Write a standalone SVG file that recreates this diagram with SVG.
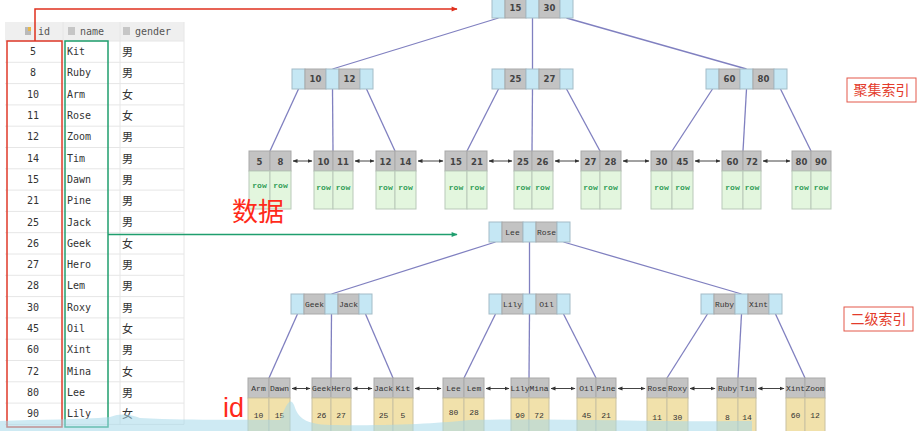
<svg xmlns="http://www.w3.org/2000/svg" width="920" height="431" viewBox="0 0 920 431">
<style>
.b{fill:#c5e7f4;stroke:#a3bcc7;stroke-width:1}
.g{fill:#c3c3c3;stroke:#a9a9a9;stroke-width:1}
.rw{fill:#e3f6de;stroke:#b9c9b9;stroke-width:1}
.dt{fill:#f1e1ab;stroke:#c9c1a1;stroke-width:1}
.edge{stroke:#8080c0;stroke-width:1.3;fill:none}
.ptr{stroke:#444;stroke-width:1;fill:none;marker-start:url(#ah);marker-end:url(#ah)}
.k1{font-family:"DejaVu Sans",sans-serif;font-size:8.5px;font-weight:bold;fill:#444;text-anchor:middle}
.rt{font-family:"Liberation Mono",monospace;font-size:8px;font-weight:bold;fill:#2f9c57;text-anchor:middle}
.k2{font-family:"Liberation Mono",monospace;font-size:8px;fill:#333;text-anchor:middle}
.tb{font-family:"DejaVu Sans Mono",monospace;font-size:10px;fill:#333}
.hd{font-family:"DejaVu Sans Mono",monospace;font-size:10px;fill:#555}
.cn{font-family:"Noto Sans CJK SC",sans-serif;font-size:11px;fill:#333}
.lab{font-family:"Noto Sans CJK SC",sans-serif;font-size:14px;fill:#e33b2b;text-anchor:middle}
.lbox{fill:#fff;stroke:#e3584a;stroke-width:1}
</style>
<defs>
<marker id="ah" viewBox="0 0 10 10" refX="9" refY="5" markerWidth="5" markerHeight="5" orient="auto-start-reverse" markerUnits="userSpaceOnUse">
<path d="M0,1 L10,5 L0,9 z" fill="#333"/>
</marker>
<marker id="ahr" viewBox="0 0 10 10" refX="9" refY="5" markerWidth="7" markerHeight="6" orient="auto" markerUnits="userSpaceOnUse">
<path d="M0,1 L10,5 L0,9 z" fill="#e0301e"/>
</marker>
<marker id="ahg" viewBox="0 0 10 10" refX="9" refY="5" markerWidth="7" markerHeight="6" orient="auto" markerUnits="userSpaceOnUse">
<path d="M0,1 L10,5 L0,9 z" fill="#1f9e6e"/>
</marker>
<g id="inode">
<rect class="b" x="0" y="0" width="13" height="20"/>
<rect class="g" x="13" y="0" width="21" height="20"/>
<rect class="b" x="34" y="0" width="13" height="20"/>
<rect class="g" x="47" y="0" width="21" height="20"/>
<rect class="b" x="68" y="0" width="13" height="20"/>
</g>
</defs>
<rect width="920" height="431" fill="#fff"/>

<g id="table">
<rect x="5" y="22" width="179" height="19" fill="#efefef"/>
<rect x="5" y="41" width="179" height="384" fill="#fff"/>
<path d="M5,41H184M5,62.3H184M5,83.6H184M5,104.9H184M5,126.2H184M5,147.5H184M5,168.8H184M5,190.1H184M5,211.4H184M5,232.7H184M5,254H184M5,275.3H184M5,296.6H184M5,317.9H184M5,339.2H184M5,360.5H184M5,381.8H184M5,403.1H184M5,424.4H184M63,22V424.4M120,22V424.4M184,22V424.4" stroke="#e6e6e6" stroke-width="1" fill="none"/>
<rect x="25" y="27" width="6" height="8" fill="#b9b9b9"/><rect x="28" y="27" width="3" height="4" fill="#e8b84a"/>
<rect x="68" y="27" width="7" height="8" fill="#c6c6c6"/>
<rect x="123" y="27" width="7" height="8" fill="#c6c6c6"/>
<text class="hd" x="38" y="34.5">id</text>
<text class="hd" x="80" y="34.5">name</text>
<text class="hd" x="135" y="34.5">gender</text>
<g class="tb" text-anchor="middle">
<text x="33" y="55.1">5</text><text x="33" y="76.4">8</text><text x="33" y="97.7">10</text><text x="33" y="119">11</text><text x="33" y="140.3">12</text><text x="33" y="161.6">14</text><text x="33" y="182.9">15</text><text x="33" y="204.2">21</text><text x="33" y="225.5">25</text><text x="33" y="246.8">26</text><text x="33" y="268.1">27</text><text x="33" y="289.4">28</text><text x="33" y="310.7">30</text><text x="33" y="332">45</text><text x="33" y="353.3">60</text><text x="33" y="374.6">72</text><text x="33" y="395.9">80</text><text x="33" y="417.2">90</text>
</g>
<g class="tb">
<text x="67" y="55.1">Kit</text><text x="67" y="76.4">Ruby</text><text x="67" y="97.7">Arm</text><text x="67" y="119">Rose</text><text x="67" y="140.3">Zoom</text><text x="67" y="161.6">Tim</text><text x="67" y="182.9">Dawn</text><text x="67" y="204.2">Pine</text><text x="67" y="225.5">Jack</text><text x="67" y="246.8">Geek</text><text x="67" y="268.1">Hero</text><text x="67" y="289.4">Lem</text><text x="67" y="310.7">Roxy</text><text x="67" y="332">Oil</text><text x="67" y="353.3">Xint</text><text x="67" y="374.6">Mina</text><text x="67" y="395.9">Lee</text><text x="67" y="417.2">Lily</text>
</g>
<g class="cn">
<text x="122" y="56">男</text><text x="122" y="77.3">男</text><text x="122" y="98.6">女</text><text x="122" y="119.9">女</text><text x="122" y="141.2">男</text><text x="122" y="162.5">男</text><text x="122" y="183.8">男</text><text x="122" y="205.1">男</text><text x="122" y="226.4">男</text><text x="122" y="247.7">女</text><text x="122" y="269">男</text><text x="122" y="290.3">男</text><text x="122" y="311.6">男</text><text x="122" y="332.9">女</text><text x="122" y="354.2">男</text><text x="122" y="375.5">女</text><text x="122" y="396.8">男</text><text x="122" y="418.1">女</text>
</g>
<rect x="7" y="41" width="55" height="386" fill="none" stroke="#e03a2a" stroke-width="1.5"/>
<rect x="65" y="41" width="43" height="386" fill="none" stroke="#1f9e6e" stroke-width="1.5"/>
</g>

<g id="connectors">
<polyline points="35,41 35,9 457,9" fill="none" stroke="#e0301e" stroke-width="1.5" marker-end="url(#ahr)"/>
<line x1="108" y1="234.5" x2="457" y2="234.5" stroke="#1f9e6e" stroke-width="1.5" marker-end="url(#ahg)"/>
<g class="edge">
<line x1="498.5" y1="18" x2="332.5" y2="69"/>
<line x1="532.5" y1="18" x2="532.5" y2="69"/>
<line x1="566.5" y1="18" x2="746.5" y2="69"/>
<line x1="298.5" y1="89" x2="270" y2="151"/>
<line x1="332.5" y1="89" x2="333" y2="151"/>
<line x1="366.5" y1="89" x2="395" y2="151"/>
<line x1="498.5" y1="89" x2="467" y2="151"/>
<line x1="532.5" y1="89" x2="532" y2="151"/>
<line x1="566.5" y1="89" x2="600" y2="151"/>
<line x1="712.5" y1="89" x2="672" y2="151"/>
<line x1="746.5" y1="89" x2="743" y2="151"/>
<line x1="780.5" y1="89" x2="811" y2="151"/>
<line x1="495.5" y1="242" x2="331.5" y2="294"/>
<line x1="529.5" y1="242" x2="529.5" y2="294"/>
<line x1="563.5" y1="242" x2="741.5" y2="294"/>
<line x1="297.5" y1="314" x2="269" y2="378"/>
<line x1="331.5" y1="314" x2="331" y2="378"/>
<line x1="365.5" y1="314" x2="393" y2="378"/>
<line x1="495.5" y1="314" x2="464" y2="378"/>
<line x1="529.5" y1="314" x2="529" y2="378"/>
<line x1="563.5" y1="314" x2="596" y2="378"/>
<line x1="707.5" y1="314" x2="667" y2="378"/>
<line x1="741.5" y1="314" x2="738" y2="378"/>
<line x1="775.5" y1="314" x2="805" y2="378"/>
</g>
<g class="ptr">
<line x1="293" y1="161" x2="312" y2="161"/>
<line x1="355" y1="161" x2="374" y2="161"/>
<line x1="418" y1="161" x2="443" y2="161"/>
<line x1="489" y1="161" x2="512" y2="161"/>
<line x1="555" y1="161" x2="579" y2="161"/>
<line x1="623" y1="161" x2="649" y2="161"/>
<line x1="695" y1="161" x2="720" y2="161"/>
<line x1="763" y1="161" x2="790" y2="161"/>
<line x1="292" y1="388.5" x2="310" y2="388.5"/>
<line x1="353" y1="388.5" x2="372" y2="388.5"/>
<line x1="415" y1="388.5" x2="441" y2="388.5"/>
<line x1="486" y1="388.5" x2="509" y2="388.5"/>
<line x1="551" y1="388.5" x2="575" y2="388.5"/>
<line x1="618" y1="388.5" x2="645" y2="388.5"/>
<line x1="690" y1="388.5" x2="715" y2="388.5"/>
<line x1="758" y1="388.5" x2="784" y2="388.5"/>
</g>
</g>

<g id="c-root" transform="translate(492,-2)"><use href="#inode"/><text class="k1" x="23.5" y="13">15</text><text class="k1" x="57.5" y="13">30</text></g>
<g id="c-n1" transform="translate(292,69)"><use href="#inode"/><text class="k1" x="23.5" y="13">10</text><text class="k1" x="57.5" y="13">12</text></g>
<g id="c-n2" transform="translate(492,69)"><use href="#inode"/><text class="k1" x="23.5" y="13">25</text><text class="k1" x="57.5" y="13">27</text></g>
<g id="c-n3" transform="translate(706,69)"><use href="#inode"/><text class="k1" x="23.5" y="13">60</text><text class="k1" x="57.5" y="13">80</text></g>

<g id="c-leaf1"><rect class="g" x="249" y="151" width="21" height="20"/><rect class="g" x="270" y="151" width="21" height="20"/><rect class="rw" x="249" y="171" width="21" height="38"/><rect class="rw" x="270" y="171" width="21" height="38"/><text class="k1" x="259.5" y="164.5">5</text><text class="k1" x="280.5" y="164.5">8</text><text class="rt" x="259.5" y="188">row</text><text class="rt" x="280.5" y="188">row</text></g>
<g id="c-leaf2"><rect class="g" x="314" y="151" width="19" height="20"/><rect class="g" x="333" y="151" width="20" height="20"/><rect class="rw" x="314" y="171" width="19" height="38"/><rect class="rw" x="333" y="171" width="20" height="38"/><text class="k1" x="323.5" y="164.5">10</text><text class="k1" x="343" y="164.5">11</text><text class="rt" x="323.5" y="190">row</text><text class="rt" x="343" y="190">row</text></g>
<g id="c-leaf3"><rect class="g" x="376" y="151" width="19" height="20"/><rect class="g" x="395" y="151" width="21" height="20"/><rect class="rw" x="376" y="171" width="19" height="38"/><rect class="rw" x="395" y="171" width="21" height="38"/><text class="k1" x="385.5" y="164.5">12</text><text class="k1" x="405.5" y="164.5">14</text><text class="rt" x="385.5" y="190">row</text><text class="rt" x="405.5" y="190">row</text></g>
<g id="c-leaf4"><rect class="g" x="445" y="151" width="22" height="20"/><rect class="g" x="467" y="151" width="20" height="20"/><rect class="rw" x="445" y="171" width="22" height="38"/><rect class="rw" x="467" y="171" width="20" height="38"/><text class="k1" x="456" y="164.5">15</text><text class="k1" x="477" y="164.5">21</text><text class="rt" x="456" y="190">row</text><text class="rt" x="477" y="190">row</text></g>
<g id="c-leaf5"><rect class="g" x="514" y="151" width="18" height="20"/><rect class="g" x="532" y="151" width="21" height="20"/><rect class="rw" x="514" y="171" width="18" height="38"/><rect class="rw" x="532" y="171" width="21" height="38"/><text class="k1" x="523" y="164.5">25</text><text class="k1" x="542.5" y="164.5">26</text><text class="rt" x="523" y="190">row</text><text class="rt" x="542.5" y="190">row</text></g>
<g id="c-leaf6"><rect class="g" x="581" y="151" width="19" height="20"/><rect class="g" x="600" y="151" width="21" height="20"/><rect class="rw" x="581" y="171" width="19" height="38"/><rect class="rw" x="600" y="171" width="21" height="38"/><text class="k1" x="590.5" y="164.5">27</text><text class="k1" x="610.5" y="164.5">28</text><text class="rt" x="590.5" y="190">row</text><text class="rt" x="610.5" y="190">row</text></g>
<g id="c-leaf7"><rect class="g" x="651" y="151" width="21" height="20"/><rect class="g" x="672" y="151" width="21" height="20"/><rect class="rw" x="651" y="171" width="21" height="38"/><rect class="rw" x="672" y="171" width="21" height="38"/><text class="k1" x="661.5" y="164.5">30</text><text class="k1" x="682.5" y="164.5">45</text><text class="rt" x="661.5" y="190">row</text><text class="rt" x="682.5" y="190">row</text></g>
<g id="c-leaf8"><rect class="g" x="722" y="151" width="21" height="20"/><rect class="g" x="743" y="151" width="18" height="20"/><rect class="rw" x="722" y="171" width="21" height="38"/><rect class="rw" x="743" y="171" width="18" height="38"/><text class="k1" x="732.5" y="164.5">60</text><text class="k1" x="752" y="164.5">72</text><text class="rt" x="732.5" y="190">row</text><text class="rt" x="752" y="190">row</text></g>
<g id="c-leaf9"><rect class="g" x="792" y="151" width="19" height="20"/><rect class="g" x="811" y="151" width="20" height="20"/><rect class="rw" x="792" y="171" width="19" height="38"/><rect class="rw" x="811" y="171" width="20" height="38"/><text class="k1" x="801.5" y="164.5">80</text><text class="k1" x="821" y="164.5">90</text><text class="rt" x="801.5" y="190">row</text><text class="rt" x="821" y="190">row</text></g>

<g id="s-root" transform="translate(489,222)"><use href="#inode"/><text class="k2" x="23.5" y="13">Lee</text><text class="k2" x="57.5" y="13">Rose</text></g>
<g id="s-n1" transform="translate(291,294)"><use href="#inode"/><text class="k2" x="23.5" y="13">Geek</text><text class="k2" x="57.5" y="13">Jack</text></g>
<g id="s-n2" transform="translate(489,294)"><use href="#inode"/><text class="k2" x="23.5" y="13">Lily</text><text class="k2" x="57.5" y="13">Oil</text></g>
<g id="s-n3" transform="translate(701,294)"><use href="#inode"/><text class="k2" x="23.5" y="13">Ruby</text><text class="k2" x="57.5" y="13">Xint</text></g>

<g id="s-leaf1"><rect class="g" x="248" y="378" width="21" height="20"/><rect class="g" x="269" y="378" width="21" height="20"/><rect class="dt" x="248" y="398" width="21" height="40"/><rect class="dt" x="269" y="398" width="21" height="40"/><text class="k2" x="258.5" y="391">Arm</text><text class="k2" x="279.5" y="391">Dawn</text><text class="k2" x="258.5" y="418">10</text><text class="k2" x="279.5" y="418">15</text></g>
<g id="s-leaf2"><rect class="g" x="312" y="378" width="19" height="20"/><rect class="g" x="331" y="378" width="20" height="20"/><rect class="dt" x="312" y="398" width="19" height="40"/><rect class="dt" x="331" y="398" width="20" height="40"/><text class="k2" x="321.5" y="391">Geek</text><text class="k2" x="341" y="391">Hero</text><text class="k2" x="321.5" y="418">26</text><text class="k2" x="341" y="418">27</text></g>
<g id="s-leaf3"><rect class="g" x="374" y="378" width="19" height="20"/><rect class="g" x="393" y="378" width="20" height="20"/><rect class="dt" x="374" y="398" width="19" height="40"/><rect class="dt" x="393" y="398" width="20" height="40"/><text class="k2" x="383.5" y="391">Jack</text><text class="k2" x="403" y="391">Kit</text><text class="k2" x="383.5" y="418">25</text><text class="k2" x="403" y="418">5</text></g>
<g id="s-leaf4"><rect class="g" x="443" y="378" width="21" height="20"/><rect class="g" x="464" y="378" width="20" height="20"/><rect class="dt" x="443" y="398" width="21" height="40"/><rect class="dt" x="464" y="398" width="20" height="40"/><text class="k2" x="453.5" y="391">Lee</text><text class="k2" x="474" y="391">Lem</text><text class="k2" x="453.5" y="415">80</text><text class="k2" x="474" y="415">28</text></g>
<g id="s-leaf5"><rect class="g" x="511" y="378" width="18" height="20"/><rect class="g" x="529" y="378" width="20" height="20"/><rect class="dt" x="511" y="398" width="18" height="40"/><rect class="dt" x="529" y="398" width="20" height="40"/><text class="k2" x="520" y="391">Lily</text><text class="k2" x="539" y="391">Mina</text><text class="k2" x="520" y="418">90</text><text class="k2" x="539" y="418">72</text></g>
<g id="s-leaf6"><rect class="g" x="577" y="378" width="19" height="20"/><rect class="g" x="596" y="378" width="20" height="20"/><rect class="dt" x="577" y="398" width="19" height="40"/><rect class="dt" x="596" y="398" width="20" height="40"/><text class="k2" x="586.5" y="391">Oil</text><text class="k2" x="606" y="391">Pine</text><text class="k2" x="586.5" y="418">45</text><text class="k2" x="606" y="418">21</text></g>
<g id="s-leaf7"><rect class="g" x="647" y="378" width="20" height="20"/><rect class="g" x="667" y="378" width="21" height="20"/><rect class="dt" x="647" y="398" width="20" height="40"/><rect class="dt" x="667" y="398" width="21" height="40"/><text class="k2" x="657" y="391">Rose</text><text class="k2" x="677.5" y="391">Roxy</text><text class="k2" x="657" y="420">11</text><text class="k2" x="677.5" y="420">30</text></g>
<g id="s-leaf8"><rect class="g" x="717" y="378" width="21" height="20"/><rect class="g" x="738" y="378" width="18" height="20"/><rect class="dt" x="717" y="398" width="21" height="40"/><rect class="dt" x="738" y="398" width="18" height="40"/><text class="k2" x="727.5" y="391">Ruby</text><text class="k2" x="747" y="391">Tim</text><text class="k2" x="727.5" y="420">8</text><text class="k2" x="747" y="420">14</text></g>
<g id="s-leaf9"><rect class="g" x="786" y="378" width="19" height="20"/><rect class="g" x="805" y="378" width="20" height="20"/><rect class="dt" x="786" y="398" width="19" height="40"/><rect class="dt" x="805" y="398" width="20" height="40"/><text class="k2" x="795.5" y="391">Xint</text><text class="k2" x="815" y="391">Zoom</text><text class="k2" x="795.5" y="418">60</text><text class="k2" x="815" y="418">12</text></g>

<path d="M0,421 C40,419 80,420 110,417 C120,413 130,414 140,418 C200,421 250,419 280,420 C286,405 290,396 294,405 C298,418 305,424 330,425 C400,426 440,423 470,420 C550,418 650,422 752,421 L752,431 L0,431 Z" fill="#a6d9e9" fill-opacity="0.55"/>

<g id="label-data"><text x="232" y="221" font-family="Noto Sans CJK SC,sans-serif" font-size="26" fill="#ff2a1a">数据</text></g>
<g id="label-id"><text x="223" y="417" font-family="Liberation Sans,sans-serif" font-size="27" fill="#ff2a1a">id</text></g>
<g id="label-clustered"><rect class="lbox" x="847" y="78" width="69" height="24"/><text class="lab" x="881.5" y="95">聚集索引</text></g>
<g id="label-secondary"><rect class="lbox" x="844" y="307" width="69" height="24"/><text class="lab" x="878.5" y="324">二级索引</text></g>
</svg>
